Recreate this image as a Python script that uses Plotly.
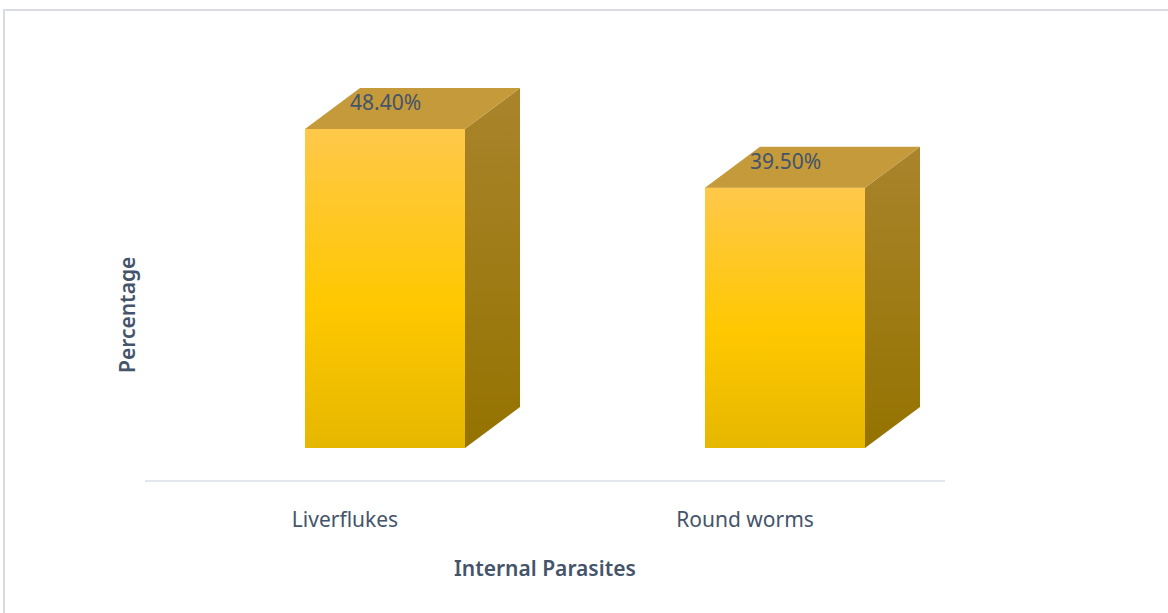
import plotly.graph_objects as go

# ---- data ----
categories = ["Liverflukes", "Round worms"]
percentages = [48.40, 39.50]
x_title = "Internal Parasites"
y_title = "Percentage"

# ---- styling constants ----
TEXT = "#44546A"
FONT = "Noto Sans, Open Sans, Liberation Sans, sans-serif"
BAR_OFFSET = -0.1      # front face left edge relative to category centre
BAR_WIDTH = 0.4
DEPTH_X = 0.1375       # 3D depth in x units
DEPTH_Y = 6.22         # 3D depth in y units
Y_RANGE = [-4.856, 64.95]

fig = go.Figure()

xs = list(range(len(categories)))

# front faces as real bars
fig.add_trace(go.Bar(
    x=xs, y=percentages, offset=BAR_OFFSET, width=BAR_WIDTH,
    marker=dict(color="#FFC800", line=dict(width=0)),
    hoverinfo="skip", showlegend=False,
))

for i, v in zip(xs, percentages):
    x0 = i + BAR_OFFSET
    x1 = x0 + BAR_WIDTH
    # front gradient overlay
    fig.add_trace(go.Scatter(
        x=[x0, x1, x1, x0, x0], y=[0, 0, v, v, 0],
        mode="lines", line=dict(width=0), fill="toself",
        fillgradient=dict(type="vertical", start=0, stop=v,
                          colorscale=[[0, "#E6B700"], [0.45, "#FFC800"], [1, "#FFC84A"]]),
        hoverinfo="skip", showlegend=False,
    ))
    # side face
    fig.add_trace(go.Scatter(
        x=[x1, x1 + DEPTH_X, x1 + DEPTH_X, x1, x1],
        y=[0, DEPTH_Y, v + DEPTH_Y, v, 0],
        mode="lines", line=dict(width=0), fill="toself",
        fillgradient=dict(type="vertical", start=0, stop=v + DEPTH_Y,
                          colorscale=[[0, "#957300"], [1, "#A9842C"]]),
        hoverinfo="skip", showlegend=False,
    ))
    # top face
    fig.add_trace(go.Scatter(
        x=[x0, x0 + DEPTH_X, x1 + DEPTH_X, x1, x0],
        y=[v, v + DEPTH_Y, v + DEPTH_Y, v, v],
        mode="lines", line=dict(width=0), fill="toself",
        fillcolor="#C49A3B",
        hoverinfo="skip", showlegend=False,
    ))
    # data label
    fig.add_annotation(
        x=i + BAR_OFFSET + BAR_WIDTH / 2, y=v + DEPTH_Y * 0.66,
        text=f"{v:.2f}%", showarrow=False,
        font=dict(family=FONT, size=21, color=TEXT),
    )

fig.update_layout(
    width=1168, height=613,
    margin=dict(l=145, r=223, t=20, b=133),
    paper_bgcolor="white", plot_bgcolor="white",
    showlegend=False,
    xaxis=dict(
        range=[-0.5, len(categories) - 0.5],
        tickmode="array", tickvals=xs, ticktext=categories,
        showgrid=False, zeroline=False,
        showline=True, linecolor="#E3E6EC", linewidth=2,
        ticks="", ticklen=0,
        tickfont=dict(family=FONT, size=21, color=TEXT),
        ticklabelstandoff=20,
        fixedrange=True,
    ),
    yaxis=dict(
        range=Y_RANGE, visible=False,
        showgrid=False, zeroline=False, showline=False,
        fixedrange=True,
    ),
)

# axis titles
fig.add_annotation(
    xref="paper", yref="paper", x=0.5, y=-0.1913,
    text=x_title, showarrow=False, xanchor="center", yanchor="middle",
    font=dict(family=FONT, size=21, color=TEXT, weight=600),
)
fig.add_annotation(
    xref="paper", yref="paper", x=-0.0225, y=0.3587,
    text=y_title, showarrow=False, textangle=-90,
    xanchor="center", yanchor="middle",
    font=dict(family=FONT, size=21, color=TEXT, weight=600),
)

# chart border
fig.add_shape(type="rect", xref="paper", yref="paper",
              x0=-0.17625, x1=1.3, y0=-0.4, y1=1.0217,
              line=dict(color="#D9DCE3", width=2), fillcolor="rgba(0,0,0,0)",
              layer="below")

fig.write_html("out.html")
